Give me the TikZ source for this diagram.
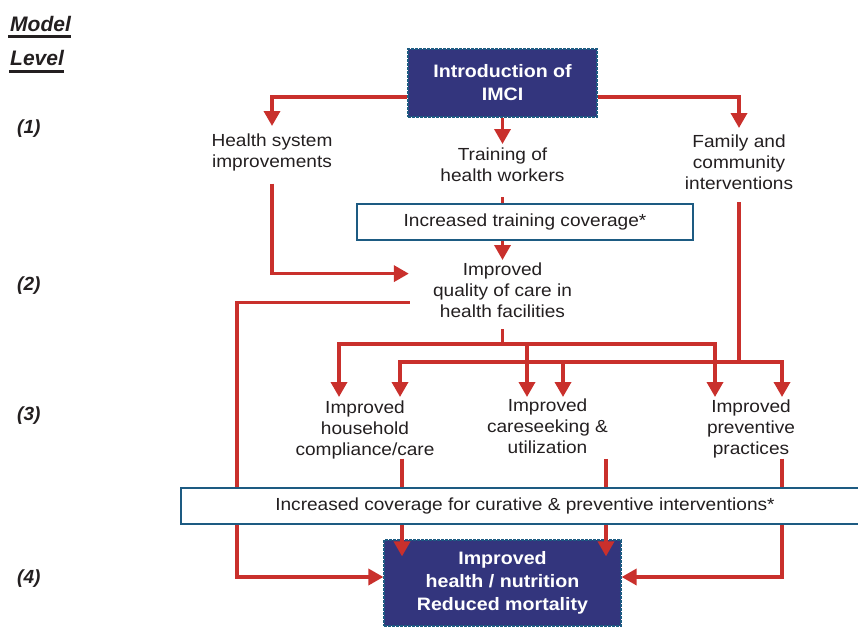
\documentclass[tikz,border=0pt]{standalone}
\usepackage{fontspec}
\setmainfont[FakeStretch=1.09]{Liberation Sans}
\newfontfamily\lblfont{Liberation Sans}
\usetikzlibrary{arrows.meta,calc}
\definecolor{arrred}{HTML}{C9302C}
\definecolor{navy}{HTML}{33357D}
\definecolor{bord}{HTML}{1D5B82}
\definecolor{txt}{HTML}{231F20}
\pgfdeclarelayer{fg}
\pgfsetlayers{main,fg}
\begin{document}
\begin{tikzpicture}[x=1pt,y=-1pt,
  txtlbl/.style={align=center,text=txt,inner sep=0pt,anchor=north,font=\fontsize{17.5}{21}\selectfont},
  conn/.style={draw=arrred,line width=3.5pt},
  arrw/.style={conn,-{Triangle[width=16pt,length=15pt]}},
  navybox/.style={fill=navy,draw=bord,line width=1.2pt,dash pattern=on 3pt off 1pt,text=white,align=center,font=\fontsize{18}{23}\selectfont\bfseries,inner sep=0pt},
  whitebox/.style={fill=white,draw=bord,line width=1.8pt,text=txt,inner sep=0pt,font=\fontsize{17.5}{21}\selectfont},
  lvl/.style={text=txt,inner sep=0pt,anchor=base west}]
\useasboundingbox (0,0) rectangle (858,626);

% level labels
\node[lvl,font=\lblfont\fontsize{21}{24}\selectfont\bfseries\itshape] (model) at (10,32) {Model};
\node[lvl,font=\lblfont\fontsize{21}{24}\selectfont\bfseries\itshape] (level) at (10,65) {Level};
\draw[line width=3pt,txt] ([xshift=-2pt,yshift=-5pt]model.base west) -- ([yshift=-5pt]model.base east);
\draw[line width=3pt,txt] ([xshift=-1pt,yshift=-6pt]level.base west) -- ([yshift=-6pt]level.base east);
\node[lvl,font=\lblfont\fontsize{19}{22}\selectfont\bfseries\itshape] (l1) at (17,133) {(1)};
\node[lvl,font=\lblfont\fontsize{19}{22}\selectfont\bfseries\itshape] (l2) at (17,290) {(2)};
\node[lvl,font=\lblfont\fontsize{19}{22}\selectfont\bfseries\itshape] (l3) at (17,420) {(3)};
\node[lvl,font=\lblfont\fontsize{19}{22}\selectfont\bfseries\itshape] (l4) at (17,583) {(4)};

% main nodes
\node[navybox,minimum width=189pt,minimum height=68pt] (imci) at (502.5,83) {Introduction of\\IMCI};
\node[txtlbl] (hs) at (272,134) {Health system\\improvements};
\node[txtlbl] (tw) at (502.5,148) {Training of\\health workers};
\node[txtlbl] (fc) at (739,135) {Family and\\community\\interventions};
\node[txtlbl] (qc) at (502.5,263) {Improved\\quality of care in\\health facilities};
\node[txtlbl] (hh) at (365,401) {Improved\\household\\compliance/care};
\node[txtlbl] (cs) at (547.5,399) {Improved\\careseeking \&\\utilization};
\node[txtlbl] (pp) at (751,400) {Improved\\preventive\\practices};
\node[navybox,minimum width=237pt,minimum height=86pt] (out) at (502.5,583) {Improved\\health / nutrition\\Reduced mortality};

\begin{pgfonlayer}{fg}
\node[whitebox,minimum width=336pt,minimum height=36pt] (itc) at (525,222) {Increased training coverage*};
\node[whitebox,minimum width=688pt,minimum height=36pt] (cov) at (525,506) {Increased coverage for curative \& preventive interventions*};
\end{pgfonlayer}

% helper coordinates
\coordinate (lft) at (237,0);
\coordinate (qcin) at ([xshift=-24pt,yshift=17pt]qc.west);
\coordinate (qcout) at ([xshift=-23pt,yshift=-12pt]qc.west);
\coordinate (b1) at (502.5,344);
\coordinate (b2) at (739,362);
\coordinate (hhA) at (339,397);
\coordinate (hhB) at (400,397);
\coordinate (csA) at (527,397);
\coordinate (csB) at (563,397);
\coordinate (ppA) at (715,397);
\coordinate (ppB) at (782,397);
\coordinate (hhout) at ([xshift=37pt,yshift=1pt]hh.south);
\coordinate (csout) at ([xshift=58.5pt,yshift=-4.6pt]cs.south);
\coordinate (ppout) at ([xshift=31pt]pp.south);

% connectors
\draw[arrw] ([yshift=-14pt]imci.west) -| ([yshift=8pt]hs.north);
\draw[arrw] (imci.south) -- ([yshift=4pt]tw.north);
\draw[arrw] ([yshift=-14pt]imci.east) -| ([yshift=7pt]fc.north);
\draw[conn,shorten <=15pt] (tw.south) -- (tw.south |- itc.north);
\draw[arrw] (tw.south |- itc.south) -- ([yshift=3pt]qc.north);
\draw[arrw,shorten <=12pt] (hs.south) |- (qcin);
\draw[arrw] (qcout) -- (qcout -| lft) |- ([yshift=6pt]out.west);
\draw[conn,shorten <=11pt] (qc.south) -- (b1);
\draw[arrw] (b1) -| (hhA);
\draw[arrw] (b1) -| (ppA);
\draw[arrw] (csA |- b1) -- (csA);
\draw[conn,shorten <=12pt] (fc.south) -- (b2);
\draw[arrw] (b2) -| (hhB);
\draw[arrw] (b2) -| (ppB);
\draw[arrw] (csB |- b2) -- (csB);
\draw[arrw] (hhout) -- ($(hhout |- out.north)+(0,17)$);
\draw[arrw] (csout) -- ($(csout |- out.north)+(0,17)$);
\draw[arrw] (ppout) |- ([yshift=6pt]out.east);
\end{tikzpicture}
\end{document}
